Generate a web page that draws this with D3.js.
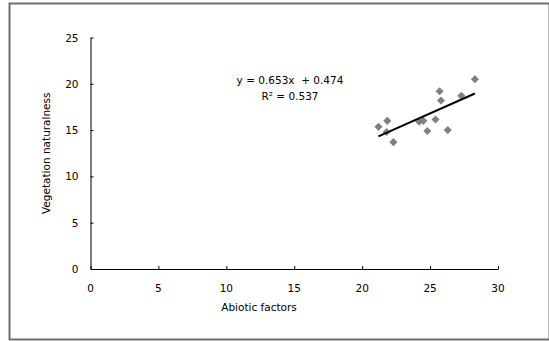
<!DOCTYPE html>
<html>
<head>
<meta charset="utf-8">
<script src="https://cdn.jsdelivr.net/npm/d3@7"></script>
<style>
  body { margin: 0; background: #fff; }
  text { font-family: "DejaVu Sans", sans-serif; font-size: 10.5px; fill: #000; }
</style>
</head>
<body>
<div id="chart"></div>
<script>
// data
var abiotic = [21.2, 21.85, 21.8, 22.3, 24.2, 24.5, 24.8, 25.4, 25.7, 25.8, 26.3, 27.3, 28.3];
var naturalness = [15.35, 16.0, 14.8, 13.7, 15.9, 16.0, 14.9, 16.15, 19.2, 18.2, 15.0, 18.7, 20.5];
var xTicks = [0, 5, 10, 15, 20, 25, 30];
var yTicks = [0, 5, 10, 15, 20, 25];
var slope = 0.653, intercept = 0.474, r2 = 0.537;

var width = 549, height = 341;
var margin = { left: 90.5, right: 51, top: 37.5, bottom: 72 };

var svg = d3.select('#chart')
  .append('svg')
    .attr('width', width)
    .attr('height', height);

// outer frame
svg.append('rect')
  .attr('x', 9.5).attr('y', 3.5)
  .attr('width', 540).attr('height', 336)
  .attr('fill', 'none')
  .attr('stroke', '#6e6e6e')
  .attr('stroke-width', 2);

var x = d3.scaleLinear().domain([0, 30]).range([margin.left, width - margin.right]);
var y = d3.scaleLinear().domain([0, 25]).range([height - margin.bottom, margin.top]);

// x axis, ticks point up
var xAxis = svg.append('g')
  .attr('transform', 'translate(0,' + y(0) + ')')
  .call(d3.axisTop(x).tickValues(xTicks).tickSize(3).tickSizeOuter(0));
xAxis.selectAll('text').remove();
svg.append('g').selectAll('text')
  .data(xTicks)
  .enter()
  .append('text')
  .attr('x', d => x(d))
  .attr('y', y(0) + 23)
  .attr('text-anchor', 'middle')
  .text(d => d);

// y axis, ticks point right
var yAxis = svg.append('g')
  .attr('transform', 'translate(' + x(0) + ',0)')
  .call(d3.axisRight(y).tickValues(yTicks).tickSize(3).tickSizeOuter(0));
yAxis.selectAll('text').remove();
svg.append('g').selectAll('text')
  .data(yTicks)
  .enter()
  .append('text')
  .attr('x', x(0) - 12)
  .attr('y', d => y(d) + 4)
  .attr('text-anchor', 'end')
  .text(d => d);

// axis titles
svg.append('text')
  .attr('x', 259)
  .attr('y', 311)
  .attr('text-anchor', 'middle')
  .text('Abiotic factors');

svg.append('text')
  .attr('transform', 'translate(50,' + ((y(0) + y(25)) / 2) + ') rotate(-90)')
  .attr('text-anchor', 'middle')
  .text('Vegetation naturalness');

// points
var pts = abiotic.map((v, i) => ({ x: v, y: naturalness[i] }));
svg.append('g')
  .selectAll('path')
  .data(pts)
  .enter()
  .append('path')
  .attr('d', d3.symbol().type(d3.symbolDiamond2).size(42))
  .attr('transform', d => 'translate(' + x(d.x) + ',' + y(d.y) + ')')
  .attr('fill', '#808080');

// trend line
var xmin = d3.min(abiotic), xmax = d3.max(abiotic);
svg.append('line')
  .attr('x1', x(xmin)).attr('y1', y(slope * xmin + intercept))
  .attr('x2', x(xmax)).attr('y2', y(slope * xmax + intercept))
  .attr('stroke', '#000')
  .attr('stroke-width', 2);

// equation
svg.append('text')
  .attr('x', 290).attr('y', 84)
  .attr('text-anchor', 'middle')
  .attr('xml:space', 'preserve')
  .text('y = ' + slope + 'x  + ' + intercept);
svg.append('text')
  .attr('x', 290).attr('y', 100)
  .attr('text-anchor', 'middle')
  .text('R² = ' + r2);
</script>
</body>
</html>
